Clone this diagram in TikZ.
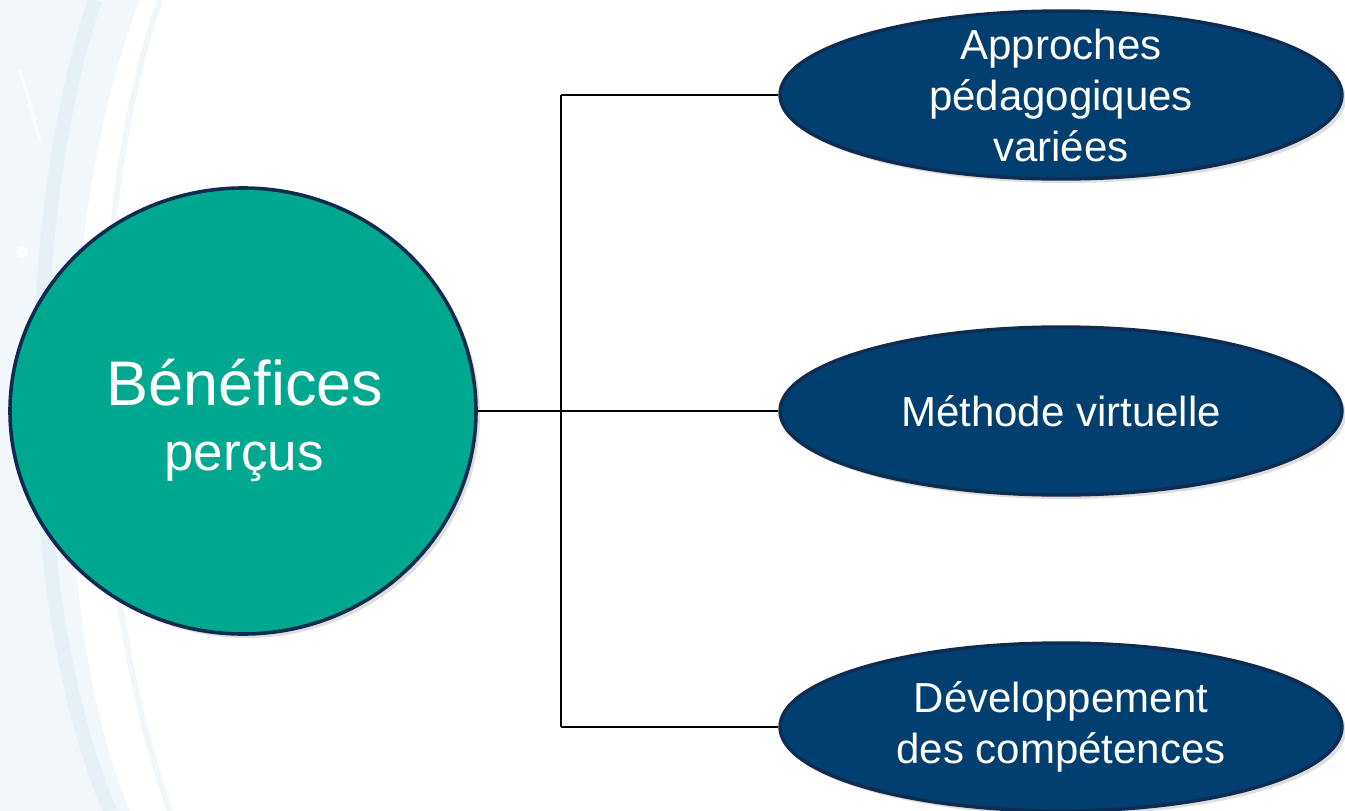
\documentclass[tikz,border=0pt]{standalone}
\usepackage{fontspec}
\setmainfont{Liberation Sans}
\usetikzlibrary{shadows,shapes.geometric}
\definecolor{tealc}{HTML}{00A88F}
\definecolor{navyfill}{HTML}{003F70}
\definecolor{navyedge}{HTML}{0E2C4F}
\definecolor{bgblue}{HTML}{DCEAF5}
\begin{document}
\begin{tikzpicture}[x=1pt,y=-1pt,
  hub/.style={ellipse,draw=navyedge,line width=3.6pt,fill=tealc,minimum width=466pt,minimum height=446pt,inner sep=0pt,
    drop shadow={shadow xshift=4pt,shadow yshift=-4pt,opacity=0.25}},
  leaf/.style={ellipse,draw=navyedge,line width=3.4pt,fill=navyfill,minimum width=562pt,minimum height=168pt,inner sep=0pt,
    drop shadow={shadow xshift=4pt,shadow yshift=-4pt,opacity=0.25}},
  leaftext/.style={text=white,align=center,inner sep=0pt,font=\fontsize{42}{51}\selectfont},
  link/.style={line width=1.8pt,black}]
\useasboundingbox (0,0) rectangle (1345,811);
% faint background swirl
\begin{scope}
\clip (0,0) rectangle (1345,811);
\fill[bgblue!40] (0,0) -- (140,0) .. controls (60,200) and (40,600) .. (130,811) -- (0,811) -- cycle;
\draw[bgblue,line width=14pt,opacity=0.5] (95,0) .. controls (20,220) and (20,600) .. (110,811);
\draw[bgblue!80,line width=6pt,opacity=0.5] (160,0) .. controls (90,200) and (80,560) .. (170,811);
\draw[white,line width=3pt,opacity=0.7] (20,70) -- (40,140);
\draw[white,line width=3pt,opacity=0.7] (35,330) -- (50,390);
\fill[white,opacity=0.8] (22,252) circle (6pt);
\end{scope}
\node[hub] (hub) at (243,411) {};
\node[text=white,inner sep=0pt,anchor=base,font=\fontsize{63}{70}\selectfont] (hubt1) at (245,405) {Bénéfices};
\node[text=white,inner sep=0pt,anchor=base,font=\fontsize{53}{60}\selectfont] (hubt2) at (244,470) {perçus};
\node[leaf] (a) at (1061,95) {};
\node[leaf] (b) at (1061,411) {};
\node[leaf] (c) at (1061,727) {};
\node[leaftext] (at) at (a.center) {Approches\\pédagogiques\\variées};
\node[leaftext] (bt) at (b.center) {Méthode virtuelle};
\node[leaftext] (ct) at (c.center) {Développement\\des compétences};
\coordinate (jt) at (561,95);
\coordinate (jm) at (561,411);
\coordinate (jb) at (561,727);
\draw[link] (hub.east) -- (jm);
\draw[link] (jt) -- (jb);
\draw[link] (jt) -- (a.west);
\draw[link] (jm) -- (b.west);
\draw[link] (jb) -- (c.west);
\end{tikzpicture}
\end{document}
